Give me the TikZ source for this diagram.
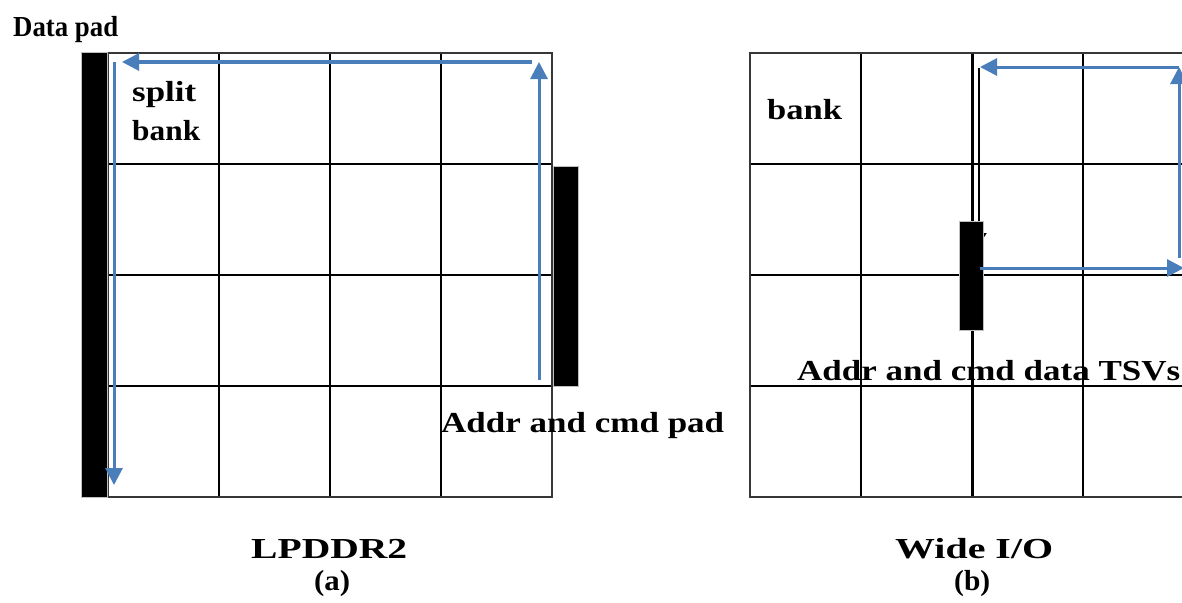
\documentclass[tikz,border=0pt]{standalone}
\usepackage{fontspec}
\usepackage{graphicx}
\setmainfont{Liberation Serif}
\usetikzlibrary{arrows.meta}
\definecolor{flowblue}{RGB}{74,126,187}
\definecolor{edgegray}{RGB}{55,55,55}
\newcommand\fitw[2]{\resizebox{#1}{\height}{#2}}
\tikzset{
  frame/.style={draw=edgegray, line width=1.6pt},
  inner/.style={draw=black, line width=2.4pt},
  thick inner/.style={draw=black, line width=3pt},
  pad/.style={draw=black!25, line width=1pt, fill=black, inner sep=0pt},
  lbl/.style={inner sep=0pt, font=\fontsize{29}{33}\selectfont\bfseries},
  flow/.style={draw=flowblue, line width=3pt, -{Triangle[length=17pt,width=17pt]}},
  feed/.style={draw=black, line width=2.2pt, -{Triangle[length=12pt,width=15pt]}},
}
\begin{document}
\begin{tikzpicture}[x=1pt, y=-1pt]
\clip (0,0) rectangle (1182,602);
\fill[white] (0,0) rectangle (1182,602);

% ---------- (a) LPDDR2 ----------
\foreach \x in {219,330,441} \draw[inner] (\x,53) -- (\x,497);
\foreach \y in {164,275,386} \draw[inner] (108,\y) -- (552,\y);
\draw[frame] (108,53) rectangle (552,497);

\node[pad, minimum width=26pt, minimum height=444pt] (datapad) at (94,275) {};
\node[pad, minimum width=25pt, minimum height=220pt] (cmdpad) at (565.5,276) {};

\coordinate (a1) at (539,380);
\coordinate (a2) at (539,62);
\coordinate (a3) at (532,62);
\coordinate (a4) at (122,62);
\coordinate (a5) at (114,62);
\coordinate (a6) at (114,485);
\draw[flow] (a1) -- (a2);
\draw[flow] (a3) -- (a4);
\draw[flow] (a5) -- (a6);

\node[lbl, anchor=base west] (datapadlbl) at (13,37) {\fitw{105pt}{Data pad}};
\node[lbl, anchor=base west] (split) at (132,101) {\fitw{64pt}{split}};
\node[lbl, anchor=base west] (splitbank) at (132,140) {\fitw{68pt}{bank}};
\node[lbl, anchor=base west] (cmdpadlbl) at (441,432) {\fitw{283pt}{Addr and cmd pad}};
\node[lbl, anchor=base west] (capa) at (251,558) {\fitw{156pt}{LPDDR2}};
\node[lbl, anchor=base west] (suba) at (314,590) {\fitw{36pt}{(a)}};

% ---------- (b) Wide I/O ----------
\draw[inner, line width=2pt] (861,53) -- (861,497);
\draw[thick inner] (972,53) -- (972,497);
\draw[inner] (1083,53) -- (1083,497);
\foreach \y in {164,386} \draw[inner, line width=2pt] (750,\y) -- (1194,\y);
\draw[inner] (750,275) -- (1194,275);
\draw[frame] (750,53) rectangle (1194,497);

\coordinate (f1) at (979,68);
\coordinate (f2) at (979,245);
\draw[feed] (f1) -- (f2);

\node[pad, minimum width=24pt, minimum height=109pt] (tsv) at (971,275.5) {};

\coordinate (b1) at (1179,258);
\coordinate (b2) at (1179,67);
\coordinate (b3) at (1179,67);
\coordinate (b4) at (980,67);
\coordinate (b5) at (980,268);
\coordinate (b6) at (1184,268);
\draw[flow] (b1) -- (b2);
\draw[flow] (b3) -- (b4);
\draw[flow] (b5) -- (b6);

\node[lbl, anchor=base west] (bank) at (767,119) {\fitw{75pt}{bank}};
\node[lbl, anchor=base west] (tsvlbl) at (797,380) {\fitw{383pt}{Addr and cmd data TSVs}};
\node[lbl, anchor=base west] (capb) at (895,558) {\fitw{158pt}{Wide I/O}};
\node[lbl, anchor=base west] (subb) at (954,590) {\fitw{36pt}{(b)}};
\end{tikzpicture}
\end{document}
